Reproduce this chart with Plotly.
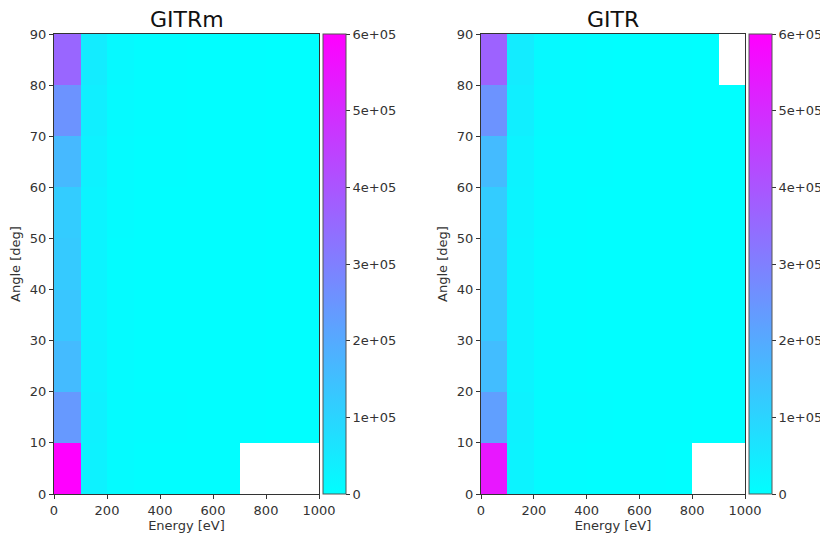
import plotly.graph_objects as go
import numpy as np

# ---- data ----
energy_edges = [0, 100, 200, 300, 400, 500, 600, 700, 800, 900, 1000]
angle_edges = [0, 10, 20, 30, 40, 50, 60, 70, 80, 90]
N = None

# rows: angle bins 0-10 ... 80-90 ; columns: energy bins 0-100 ... 900-1000
gitrm_counts = [
    [600000, 30000, 9000, 5000, 3500, 2500, 1500, N, N, N],
    [240000, 32000, 10000, 6000, 4000, 3000, 2000, 1500, 1000, 800],
    [160000, 28000, 9000, 5000, 3500, 2500, 1800, 1200, 900, 700],
    [135000, 26000, 8500, 5000, 3500, 2500, 1800, 1200, 900, 700],
    [125000, 25000, 8000, 5000, 3500, 2500, 1800, 1200, 900, 700],
    [120000, 26000, 8500, 5000, 3500, 2500, 1800, 1200, 900, 700],
    [165000, 30000, 9000, 5500, 3800, 2700, 1900, 1300, 1000, 800],
    [255000, 38000, 11000, 6000, 4000, 3000, 2000, 1500, 1000, 800],
    [360000, 45000, 13000, 7000, 4500, 3200, 2200, 1600, 1100, 900],
]

gitr_counts = [
    [545000, 28000, 9000, 5000, 3500, 2500, 1500, 1000, N, N],
    [225000, 30000, 10000, 6000, 4000, 3000, 2000, 1500, 1000, 800],
    [155000, 27000, 9000, 5000, 3500, 2500, 1800, 1200, 900, 700],
    [130000, 25000, 8500, 5000, 3500, 2500, 1800, 1200, 900, 700],
    [122000, 24000, 8000, 5000, 3500, 2500, 1800, 1200, 900, 700],
    [120000, 25000, 8500, 5000, 3500, 2500, 1800, 1200, 900, 700],
    [160000, 29000, 9000, 5500, 3800, 2700, 1900, 1300, 1000, 800],
    [255000, 37000, 11000, 6000, 4000, 3000, 2000, 1500, 1000, 800],
    [370000, 44000, 13000, 7000, 4500, 3200, 2200, 1600, 1100, N],
]

titles = ["GITRm", "GITR"]
cbar_tickvals = [0, 100000, 200000, 300000, 400000, 500000, 600000]
cbar_ticktext = ["0", "1e+05", "2e+05", "3e+05", "4e+05", "5e+05", "6e+05"]
x_ticks = [0, 200, 400, 600, 800, 1000]
y_ticks = [0, 10, 20, 30, 40, 50, 60, 70, 80, 90]

# ---- layout geometry (page pixels; page body has an 8px default margin) ----
OFF = 8
W, H = 828 - OFF, 541 - OFF
def px(x):
    return (x - OFF) / W
def py(y):
    return 1 - (y - OFF) / H

y_top, y_bot = 34, 494
panels = [(54, 319, 323), (481, 745, 749)]  # plot left, plot right, colorbar left
cool = [[0, "rgb(0,255,255)"], [1, "rgb(255,0,255)"]]
font = "DejaVu Sans"
txt = "#333"

fig = go.Figure()
for i, (data, title) in enumerate(zip([gitrm_counts, gitr_counts], titles)):
    xl, xr, cbl = panels[i]
    z = np.array([[np.nan if v is None else v for v in row] for row in data], dtype=float)
    xa = "x" if i == 0 else "x2"
    ya = "y" if i == 0 else "y2"
    fig.add_trace(go.Heatmap(
        x=energy_edges, y=angle_edges, z=z,
        colorscale=cool, zmin=0, zmax=600000,
        xaxis=xa, yaxis=ya, hoverongaps=False,
        colorbar=dict(
            x=px(cbl), xanchor="left", xref="paper",
            y=py(y_bot), yanchor="bottom", yref="paper",
            len=(y_bot - y_top) / H, lenmode="fraction",
            thickness=23, thicknessmode="pixels",
            outlinecolor="#555", outlinewidth=1,
            tickvals=cbar_tickvals, ticktext=cbar_ticktext,
            ticks="outside", ticklen=4, tickcolor="#333",
            tickfont=dict(family=font, size=13, color=txt),
            xpad=0, ypad=0,
        ),
    ))
    axis_common = dict(showline=True, linecolor="#333", linewidth=1, mirror=True,
                       ticks="outside", ticklen=4, tickcolor="#333",
                       showgrid=False, zeroline=False, automargin=False,
                       tickfont=dict(family=font, size=13, color=txt))
    xkey = "xaxis" if i == 0 else "xaxis2"
    ykey = "yaxis" if i == 0 else "yaxis2"
    fig.update_layout(**{
        xkey: dict(domain=[px(xl), px(xr)], range=[0, 1000], tickvals=x_ticks,
                   anchor=ya,
                   title=dict(text="Energy [eV]", font=dict(family=font, size=13, color=txt), standoff=4),
                   **axis_common),
        ykey: dict(domain=[py(y_bot), py(y_top)], range=[0, 90], tickvals=y_ticks,
                   anchor=xa,
                   title=dict(text="Angle [deg]", font=dict(family=font, size=13, color=txt), standoff=6),
                   **axis_common),
    })
    fig.add_annotation(text=title, x=px((xl + xr) / 2), y=py(20), xref="paper", yref="paper",
                       showarrow=False, font=dict(family=font, size=22, color="#111"),
                       xanchor="center", yanchor="middle", borderpad=0)

fig.update_layout(width=W, height=H, margin=dict(l=0, r=0, t=0, b=0, autoexpand=False),
                  paper_bgcolor="white", plot_bgcolor="white", showlegend=False)
fig.write_html("out.html")
